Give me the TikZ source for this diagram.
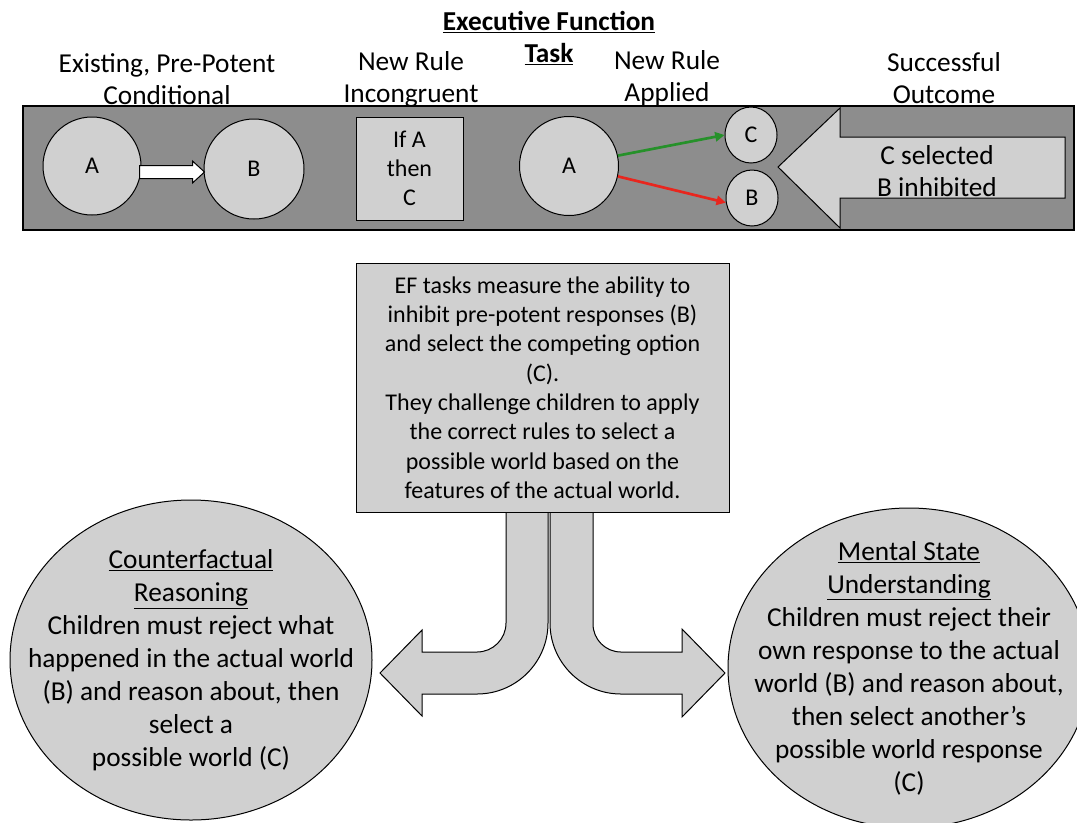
\documentclass[tikz,border=0pt]{standalone}
\usepackage{fontspec}
\setmainfont{Carlito}
\usetikzlibrary{calc,shapes.geometric,arrows.meta}
\definecolor{panelgray}{RGB}{141,141,141}
\definecolor{shapegray}{RGB}{208,208,208}
\definecolor{keepgreen}{RGB}{38,145,42}
\definecolor{dropred}{RGB}{232,38,30}
\newcommand{\efhead}{\fontsize{20.5pt}{24pt}\selectfont}
\newcommand{\efbody}{\fontsize{18pt}{22pt}\selectfont}
\newcommand{\efworld}{\fontsize{20.5pt}{24.75pt}\selectfont}
\tikzset{
	panel/.style={rectangle,draw=black,fill=panelgray,line width=1pt,minimum width=788.25pt,minimum height=93pt,inner sep=0pt},
	bubble/.style={circle,draw=black,fill=shapegray,line width=0.75pt,inner sep=0pt,minimum size=74pt,font=\efbody},
	smallbubble/.style={ellipse,draw=black,fill=shapegray,line width=0.75pt,inner sep=0pt,minimum width=39pt,minimum height=42pt,font=\efbody},
	rulebox/.style={rectangle,draw=black,fill=shapegray,line width=0.75pt,minimum width=80.25pt,minimum height=77.25pt,align=center,font={\fontsize{18pt}{21.75pt}\selectfont}},
	notebox/.style={rectangle,draw=black,fill=shapegray,line width=0.75pt,minimum width=279.75pt,minimum height=186.75pt,align=center,font=\efbody},
	heading/.style={align=center,font=\efhead,inner sep=0pt},
	block/.style={draw=black,fill=shapegray,line width=0.75pt,line join=miter},
	hollow/.style={draw=black,fill=white,line width=0.75pt},
	link/.style={line width=2pt,-{Triangle[length=7pt,width=7pt]}},
	world/.style={ellipse,draw=black,fill=shapegray,line width=0.75pt,inner sep=0pt,minimum width=271.5pt,minimum height=240pt},
	worldtext/.style={align=center,font=\efworld,inner sep=0pt}
}

\begin{document}
\begin{tikzpicture}[x=0.75pt,y=-0.75pt]
	%%%%% START %%%%%
	\useasboundingbox (0,0) rectangle (1077,822);
	\clip (0,0) rectangle (1077,822);
	\fill[white] (0,0) rectangle (1077,822);
	
	% title and column headings
	\node[heading,font=\efhead\bfseries] (title) at (549,38) {\underline{Executive Function}\\\underline{Task}};
	\node[heading] (existing) at (167,79) {Existing, Pre-Potent\\Conditional};
	\node[heading] (incongruent) at (411,79) {New Rule\\Incongruent};
	\node[heading] (applied) at (667,78) {New Rule\\Applied};
	\node[heading] (successful) at (944,78) {Successful\\Outcome};
	
	% task panel
	\node[panel] (band) at (548.5,168) {};
	
	\node[bubble,minimum size=73.5pt] (a1) at (92,166) {A};
	\node[bubble,minimum size=75pt] (b1) at (254,169) {B};
	\coordinate (pushfrom) at ($(a1.east)+(-2,6)$);
	\coordinate (pushto) at ($(b1.west)+(1,3)$);
	\draw[hollow] ($(pushfrom)+(0,-6.5)$) -- ($(pushto)+(-12,-6.5)$) -- ($(pushto)+(-12,-11)$) -- (pushto)
		-- ($(pushto)+(-12,11)$) -- ($(pushto)+(-12,6.5)$) -- ($(pushfrom)+(0,6.5)$) -- cycle;
	
	\node[rulebox] (rule) at (409.5,168.5) {If A\\then\\C};
	
	\node[bubble,minimum size=74.25pt] (a2) at (569,166) {A};
	\node[smallbubble] (c2) at (751,135) {C};
	\node[smallbubble] (b2) at (752,198) {B};
	\draw[link,keepgreen] (a2.12) -- (c2.west);
	\draw[link,dropred] (a2.-12) -- (b2.190);
	
	\draw[block] (778,167) -- (840,108) -- (840,137) -- (1065,137) -- (1065,198) -- (840,198) -- (840,228) -- cycle;
	\node[heading] (result) at (937,171) {C selected\\B inhibited};
	
	% split arrows under the note
	\draw[block] (548,512) -- (548,623) arc (0:90:71) -- (422,694) -- (422,716) -- (380,673) -- (422,630)
		-- (422,652) -- (477,652) arc (90:0:29) -- (506,512) -- cycle;
	\draw[block] (550,512) -- (550,623) arc (180:90:71) -- (682,694) -- (682,717) -- (725,673) -- (682,629)
		-- (682,652) -- (621,652) arc (90:180:28) -- (593,512) -- cycle;
	
	\node[notebox] (note) at (542.5,387.5) {EF tasks measure the ability to\\inhibit pre-potent responses (B)\\and select the competing option\\(C).\\They challenge children to apply\\the correct rules to select a\\possible world based on the\\features of the actual world.};
	
	% the two worlds
	\node[world] (cfr) at (191,660) {};
	\node[worldtext] (cfrtext) at (cfr) {\underline{Counterfactual}\\\underline{Reasoning}\\Children must reject what\\happened in the actual world\\(B) and reason about, then\\select a\\possible world (C)};
	
	\node[world] (msu) at (909,668) {};
	\node[worldtext] (msutext) at (msu) {\underline{Mental State}\\\underline{Understanding}\\Children must reject their\\own response to the actual\\world (B) and reason about,\\then select another’s\\possible world response\\(C)};
	
	%%%%% END %%%%%
\end{tikzpicture}
\end{document}
